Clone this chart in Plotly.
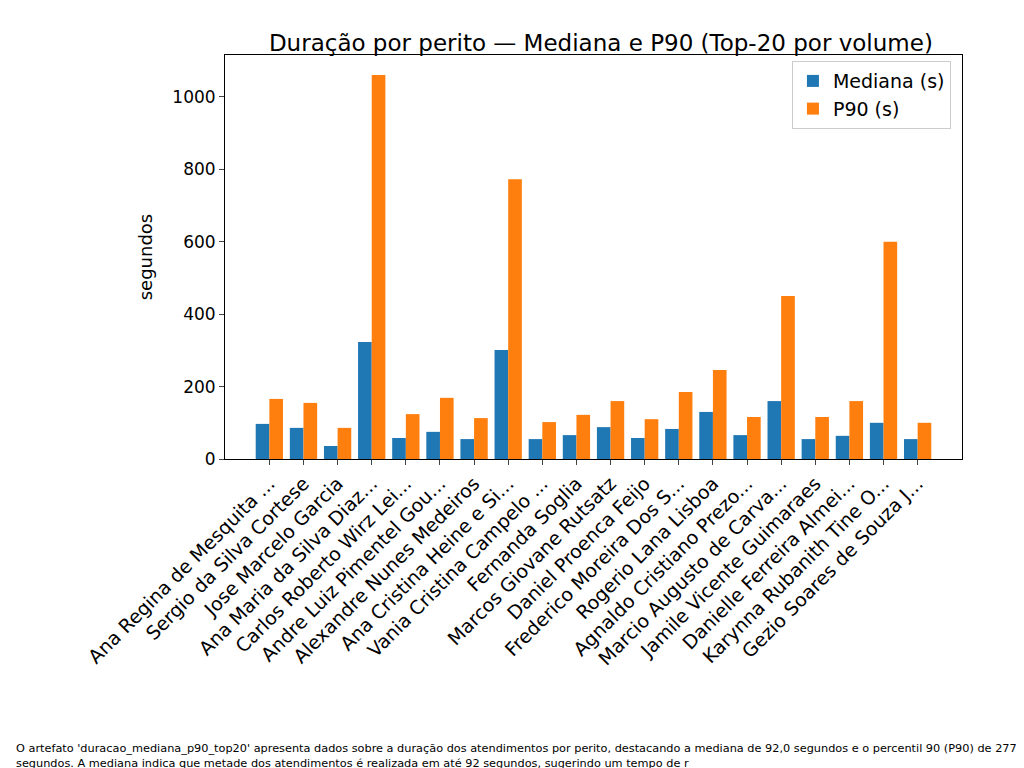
import plotly.graph_objects as go

peritos = [
    "Ana Regina de Mesquita ...", "Sergio da Silva Cortese", "Jose Marcelo Garcia",
    "Ana Maria da Silva Diaz...", "Carlos Roberto Wirz Lei...", "Andre Luiz Pimentel Gou...",
    "Alexandre Nunes Medeiros", "Ana Cristina Heine e Si...", "Vania Cristina Campelo ...",
    "Fernanda Soglia", "Marcos Giovane Rutsatz", "Daniel Proenca Feijo",
    "Frederico Moreira Dos S...", "Rogerio Lana Lisboa", "Agnaldo Cristiano Prezo...",
    "Marcio Augusto de Carva...", "Jamile Vicente Guimaraes", "Danielle Ferreira Almei...",
    "Karynna Rubanith Tine O...", "Gezio Soares de Souza J...",
]
mediana = [97, 86, 36, 323, 58, 75, 55, 301, 55, 66, 88, 58, 83, 130, 66, 160, 55, 64, 100, 55]
p90 = [166, 155, 86, 1061, 124, 169, 113, 773, 102, 122, 160, 110, 185, 246, 116, 450, 116, 160, 600, 100]

legenda = "O artefato 'duracao_mediana_p90_top20' apresenta dados sobre a duração dos atendimentos por perito, destacando a mediana de 92,0 segundos e o percentil 90 (P90) de 277,0<br>segundos. A mediana indica que metade dos atendimentos é realizada em até 92 segundos, sugerindo um tempo de r"

x = list(range(len(peritos)))

fig = go.Figure()
fig.add_trace(go.Bar(x=x, y=mediana, name="Mediana (s)", marker_color="#1f77b4",
                     marker_line_width=0, offset=-0.4, width=0.4))
fig.add_trace(go.Bar(x=x, y=p90, name="P90 (s)", marker_color="#ff7f0e",
                     marker_line_width=0, offset=0.0, width=0.4))

fig.update_layout(
    width=1024, height=768,
    margin=dict(l=217, r=70, t=47, b=317),
    paper_bgcolor="white", plot_bgcolor="white",
    font=dict(family="DejaVu Sans", size=16, color="black"),
    title=dict(text="Duração por perito — Mediana e P90 (Top-20 por volume)",
               x=0.579, xanchor="center", y=0.955, yanchor="middle", font=dict(size=23)),
    showlegend=True,
    legend=dict(x=0.985, y=0.985, xanchor="right", yanchor="top",
                bordercolor="#cccccc", borderwidth=1, font=dict(size=19)),
    bargap=0.2,
)
fig.update_xaxes(
    tickmode="array", tickvals=x, ticktext=peritos, tickangle=-45,
    range=[-1.3, 20.3], showline=True, linecolor="black", mirror=True,
    ticks="outside", ticklen=5, showgrid=False, tickfont=dict(size=19),
)
fig.update_yaxes(
    range=[0, 1116], dtick=200, showline=True, linecolor="black", mirror=True,
    ticks="outside", ticklen=5, showgrid=False, zeroline=False,
    title=dict(text="segundos", font=dict(size=18)), tickfont=dict(size=17),
)
fig.add_annotation(text=legenda, xref="paper", yref="paper", x=-0.286, y=-0.695,
                   xanchor="left", yanchor="top", align="left", showarrow=False,
                   font=dict(size=11.3))

fig.write_html("out.html")
